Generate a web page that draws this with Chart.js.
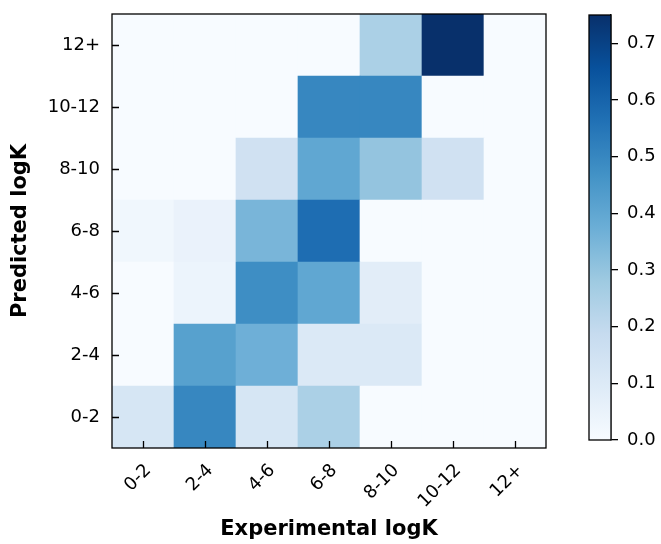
<!DOCTYPE html>
<html lang="en">
  <head>
    <meta charset="UTF-8" />
    <title>Predicted vs experimental logK</title>
    <style>
      body { margin: 0; background: #fff; overflow: hidden; }
      #wrap { position: relative; width: 661px; height: 544px; }
      #heat { position: absolute; left: 0; top: 0; }
      #bar { position: absolute; left: 580px; top: 0; }
    </style>
  </head>
  <body>
    <div id="wrap">
      <canvas id="heat" width="661" height="544"></canvas>
      <canvas id="bar" width="81" height="544"></canvas>
    </div>

    <script src="https://cdn.jsdelivr.net/npm/chart.js"></script>
    <script>
      const expLabels = ["0-2", "2-4", "4-6", "6-8", "8-10", "10-12", "12+"];
      const predLabels = ["0-2", "2-4", "4-6", "6-8", "8-10", "10-12", "12+"]; // bottom to top

      // one array per predicted bin, values per experimental bin
      const pred0_2 = [0.125, 0.5, 0.125, 0.25, 0, 0, 0];
      const pred2_4 = [0, 0.42, 0.37, 0.105, 0.105, 0, 0];
      const pred4_6 = [0, 0.04, 0.48, 0.4, 0.08, 0, 0];
      const pred6_8 = [0.025, 0.05, 0.35, 0.575, 0, 0, 0];
      const pred8_10 = [0, 0, 0.15, 0.4, 0.3, 0.15, 0];
      const pred10_12 = [0, 0, 0, 0.5, 0.5, 0, 0];
      const pred12 = [0, 0, 0, 0, 0.25, 0.75, 0];
      const rows = [pred0_2, pred2_4, pred4_6, pred6_8, pred8_10, pred10_12, pred12];

      const vmax = 0.75;
      const cbTicks = [0, 0.1, 0.2, 0.3, 0.4, 0.5, 0.6, 0.7];

      // matplotlib "Blues"
      const bluesStops = [
        [0.0, 247, 251, 255],
        [0.125, 222, 235, 247],
        [0.25, 198, 219, 239],
        [0.375, 158, 202, 225],
        [0.5, 107, 174, 214],
        [0.625, 66, 146, 198],
        [0.75, 33, 113, 181],
        [0.875, 8, 81, 156],
        [1.0, 8, 48, 107],
      ];

      function blues(v) {
        const t = Math.max(0, Math.min(1, v / vmax));
        for (let i = 1; i < bluesStops.length; i++) {
          const a = bluesStops[i - 1], b = bluesStops[i];
          if (t <= b[0]) {
            const f = (t - a[0]) / (b[0] - a[0]);
            const c = [1, 2, 3].map((k) => Math.round(a[k] + (b[k] - a[k]) * f));
            return "rgb(" + c.join(",") + ")";
          }
        }
        return "rgb(8,48,107)";
      }

      Chart.defaults.font.family = "'DejaVu Sans', sans-serif";
      Chart.defaults.font.size = 18;
      Chart.defaults.color = "#000";

      // box round the plot area
      const frame = {
        id: "frame",
        afterDraw(chart) {
          const { ctx, chartArea: a } = chart;
          ctx.save();
          ctx.strokeStyle = "#000";
          ctx.lineWidth = 1.3;
          ctx.strokeRect(a.left, a.top, a.right - a.left, a.bottom - a.top);
          ctx.restore();
        },
      };

      // inward tick marks + x tick labels rotated 45deg, ending just right of the tick
      const axisMarks = {
        id: "axisMarks",
        afterDraw(chart) {
          const { ctx, chartArea: a } = chart;
          const x = chart.scales.x;
          const y = chart.scales.y;
          ctx.save();
          ctx.strokeStyle = "#000";
          ctx.lineWidth = 1.3;
          ctx.beginPath();
          expLabels.forEach((lab, i) => {
            const px = Math.round(x.getPixelForTick(i)) + 0.5;
            ctx.moveTo(px, a.bottom);
            ctx.lineTo(px, a.bottom - 7);
          });
          predLabels.forEach((lab, i) => {
            const py = Math.round(y.getPixelForValue(i + 0.5)) + 0.5;
            ctx.moveTo(a.left, py);
            ctx.lineTo(a.left + 7, py);
          });
          ctx.stroke();

          ctx.font = "18px 'DejaVu Sans'";
          ctx.fillStyle = "#000";
          ctx.textAlign = "center";
          ctx.textBaseline = "middle";
          expLabels.forEach((lab, i) => {
            const px = x.getPixelForTick(i);
            const w = ctx.measureText(lab).width;
            const bb = (w + 13) / Math.SQRT2;
            ctx.save();
            ctx.translate(px + 10 - bb / 2, a.bottom + 15 + bb / 2);
            ctx.rotate(-Math.PI / 4);
            ctx.fillText(lab, 0, 0);
            ctx.restore();
          });
          ctx.restore();
        },
      };

      const noPad = (s) => {
        s.paddingTop = 0;
        s.paddingBottom = 0;
        s.paddingLeft = 0;
        s.paddingRight = 0;
      };

      const datasets = rows.map((vals, r) => ({
        label: predLabels[r],
        data: expLabels.map(() => [r, r + 1]),
        backgroundColor: vals.map(blues),
        borderWidth: 0,
        barPercentage: 1,
        categoryPercentage: 1,
        grouped: false,
      }));

      new Chart(document.getElementById("heat"), {
        type: "bar",
        data: { labels: expLabels, datasets: datasets },
        options: {
          responsive: false,
          animation: false,
          events: [],
          layout: { padding: { top: 14, right: 115, left: 0, bottom: 0 } },
          plugins: { legend: { display: false }, tooltip: { enabled: false } },
          scales: {
            x: {
              ticks: { display: false },
              grid: { display: false, drawTicks: false },
              border: { display: false },
              title: {
                display: true,
                text: "Experimental logK",
                font: { size: 21, weight: "bold" },
                padding: { top: 0, bottom: 2 },
              },
              afterFit: (s) => { s.height = 96; noPad(s); },
            },
            y: {
              min: 0,
              max: 7,
              afterBuildTicks: (s) => { s.ticks = predLabels.map((_, i) => ({ value: i + 0.5 })); },
              ticks: { padding: 12, callback: (v, i) => predLabels[i] },
              grid: { display: false, drawTicks: false },
              border: { display: false },
              title: {
                display: true,
                text: "Predicted logK",
                font: { size: 21, weight: "bold" },
                padding: { top: 8, bottom: 0 },
              },
              afterFit: (s) => { s.width = 112; noPad(s); },
            },
          },
        },
        plugins: [frame, axisMarks],
      });

      // colour bar
      new Chart(document.getElementById("bar"), {
        type: "bar",
        data: {
          labels: [""],
          datasets: [
            {
              data: [[0, vmax]],
              backgroundColor: (c) => {
                const a = c.chart.chartArea;
                if (!a) return blues(0);
                const g = c.chart.ctx.createLinearGradient(0, a.bottom, 0, a.top);
                bluesStops.forEach((s) => g.addColorStop(s[0], "rgb(" + s[1] + "," + s[2] + "," + s[3] + ")"));
                return g;
              },
              borderWidth: 0,
              barPercentage: 1,
              categoryPercentage: 1,
            },
          ],
        },
        options: {
          responsive: false,
          animation: false,
          events: [],
          layout: { padding: { left: 9, top: 15, bottom: 104, right: 0 } },
          plugins: { legend: { display: false }, tooltip: { enabled: false } },
          scales: {
            x: { display: false },
            y: {
              position: "right",
              min: 0,
              max: vmax,
              afterBuildTicks: (s) => { s.ticks = cbTicks.map((v) => ({ value: v })); },
              ticks: { padding: 9, callback: (v) => Number(v).toFixed(1) },
              grid: { drawOnChartArea: false, tickLength: 7, color: "#000", lineWidth: 1.3 },
              border: { color: "#000", width: 1.3 },
              afterFit: (s) => { s.width = 50; noPad(s); },
            },
          },
        },
        plugins: [frame],
      });
    </script>
  </body>
</html>
